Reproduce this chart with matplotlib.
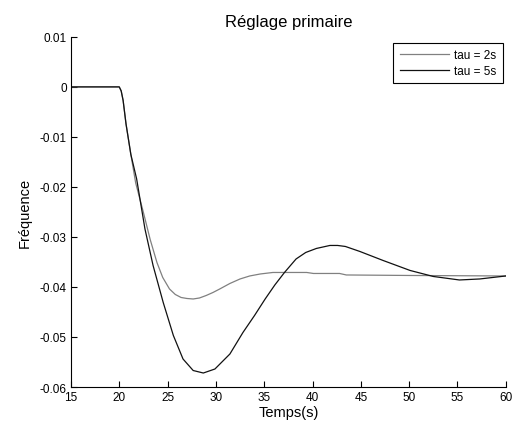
import matplotlib
matplotlib.use('Agg')
import matplotlib.pyplot as plt
from matplotlib import rcParams

rcParams['font.family'] = ['Liberation Sans', 'DejaVu Sans']
rcParams['font.size'] = 8.5

# tau = 2s (gris)
t_tau2 = [15, 20, 20.2, 20.4, 20.7, 21.2, 21.7, 22.5, 23.2, 23.9, 24.5, 25.2,
          25.8, 26.4, 27.0, 27.65, 28.3, 29.0, 29.7, 30.4, 31.45, 32.5, 33.5,
          34.6, 35.9, 37.5, 39.4, 40.1, 42.8, 43.5, 50, 60]
f_tau2 = [0, 0, -0.0008, -0.0027, -0.0074, -0.0135, -0.0192, -0.0251, -0.0305,
          -0.0351, -0.0381, -0.0404, -0.0415, -0.0421, -0.0423, -0.0424,
          -0.0422, -0.0417, -0.0411, -0.0404, -0.0393, -0.0384, -0.0378,
          -0.0374, -0.0371, -0.0371, -0.0371, -0.0373, -0.0373, -0.0376,
          -0.0377, -0.0378]

# tau = 5s (noir)
t_tau5 = [15, 20, 20.2, 20.4, 20.7, 21.2, 21.8, 22.66, 23.5, 24.55, 25.6, 26.6,
          27.65, 28.7, 29.9, 31.45, 32.8, 34.0, 35.1, 36.1, 37.1, 38.3, 39.3,
          40.4, 41.8, 42.6, 43.4, 44.9, 47.3, 50.1, 52.5, 55.2, 57.3, 60]
f_tau5 = [0, 0, -0.0008, -0.0027, -0.0074, -0.0135, -0.0184, -0.0284, -0.0357,
          -0.0431, -0.0497, -0.0544, -0.0567, -0.0572, -0.0564, -0.0534,
          -0.0491, -0.0457, -0.0424, -0.0396, -0.0371, -0.0344, -0.0331,
          -0.0323, -0.0317, -0.0317, -0.0319, -0.0329, -0.0347, -0.0367,
          -0.0379, -0.0386, -0.0384, -0.0378]

xticks = [15, 20, 25, 30, 35, 40, 45, 50, 55, 60]
yticks = [-0.06, -0.05, -0.04, -0.03, -0.02, -0.01, 0, 0.01]
ylabels = ['-0.06', '-0.05', '-0.04', '-0.03', '-0.02', '-0.01', '0', '0.01']

fig = plt.figure(figsize=(5.14, 4.27), dpi=100)
ax = fig.add_axes([0.138, 0.0913, 0.846, 0.82])

ax.plot(t_tau2, f_tau2, color='#808080', lw=0.9, label='tau = 2s')
ax.plot(t_tau5, f_tau5, color='#111111', lw=0.9, label='tau = 5s')

ax.set_xlim(15, 60)
ax.set_ylim(-0.06, 0.01)
ax.set_xticks(xticks)
ax.set_yticks(yticks)
ax.set_yticklabels(ylabels)
ax.tick_params(direction='in', length=4, width=0.8, labelsize=8.5, pad=3)
ax.spines['top'].set_visible(False)
ax.spines['right'].set_visible(False)

ax.set_xlabel('Temps(s)', fontsize=10.5, labelpad=1)
ax.set_ylabel('Fréquence', fontsize=10.5, labelpad=6)
ax.set_title('Réglage primaire', fontsize=12, pad=8)

leg = ax.legend(loc='upper right', bbox_to_anchor=(0.993, 0.983),
                borderaxespad=0, fontsize=8.5, fancybox=False, framealpha=1,
                edgecolor='black', handlelength=4.2, handletextpad=0.4,
                borderpad=0.55, labelspacing=0.3)
leg.get_frame().set_linewidth(0.8)

fig.savefig('out.png', dpi=100)
